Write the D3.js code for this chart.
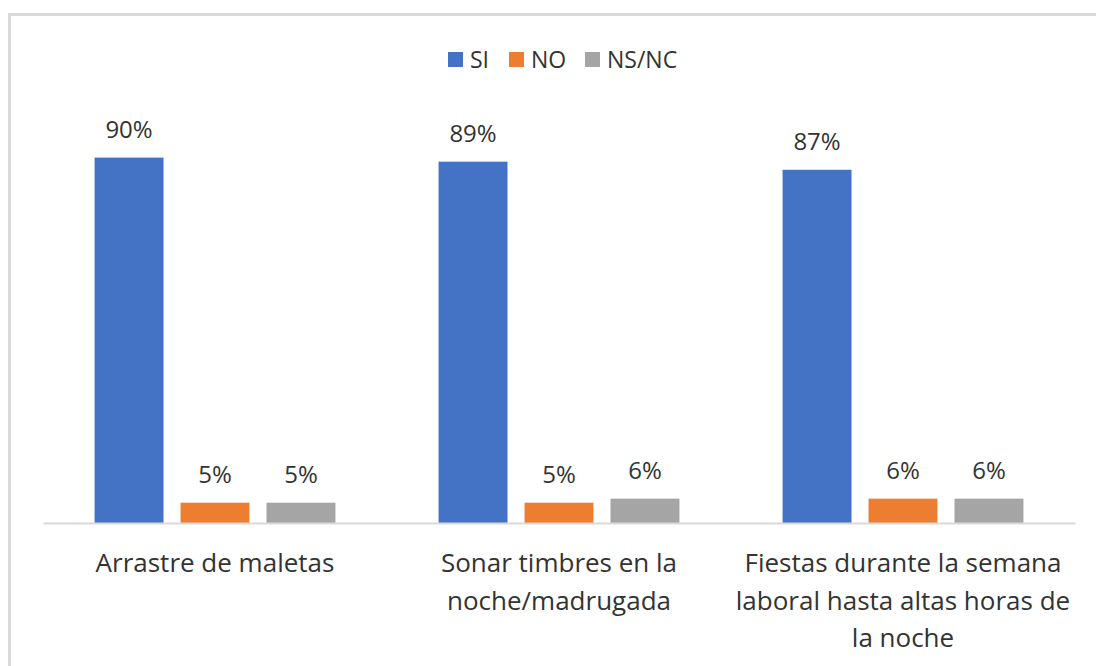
<!DOCTYPE html>
<html>
<head>
<meta charset="utf-8">
<script src="https://cdn.jsdelivr.net/npm/d3@7"></script>
<style>
  html, body { margin: 0; padding: 0; background: #fff; }
  svg { display: block; }
  text { font-family: "Open Sans", "Segoe UI", sans-serif; fill: #333333; }
</style>
</head>
<body>
<svg id="chart" width="1096" height="666"></svg>
<script>
// Survey answers per kind of nuisance
const categories = [
  "Arrastre de maletas",
  "Sonar timbres en la\nnoche/madrugada",
  "Fiestas durante la semana\nlaboral hasta altas horas de\nla noche"
];
const seriesNames = ["SI", "NO", "NS/NC"];
const siValues = [90, 89, 87];
const noValues = [5, 5, 6];
const nsncValues = [5, 6, 6];
const seriesColors = ["#4472C4", "#ED7D31", "#A5A5A5"];

const seriesValues = [siValues, noValues, nsncValues];

const svg = d3.select("#chart");

// chart frame
svg.append("rect")
  .attr("x", 9.5).attr("y", 14.5)
  .attr("width", 1200).attr("height", 800)
  .attr("fill", "none")
  .attr("stroke", "#d9d9d9")
  .attr("stroke-width", 3);

const plot = { left: 43, right: 1075, top: 117, bottom: 523 };

const x0 = d3.scaleBand()
  .domain(categories)
  .range([plot.left, plot.right])
  .padding(0);

const x1 = d3.scaleBand()
  .domain(seriesNames)
  .range([0, x0.bandwidth()])
  .paddingInner(0.198)
  .paddingOuter(0.6);

const y = d3.scaleLinear()
  .domain([0, 100])
  .range([plot.bottom, plot.top]);

const groups = svg.append("g").selectAll("g")
  .data(categories)
  .join("g")
  .attr("transform", d => `translate(${x0(d)},0)`);

const cells = groups.selectAll("g")
  .data((c, ci) => seriesNames.map((s, si) => ({ s, si, v: seriesValues[si][ci] })))
  .join("g");

cells.append("rect")
  .attr("x", d => x1(d.s))
  .attr("y", d => y(d.v))
  .attr("width", x1.bandwidth())
  .attr("height", d => y(0) - y(d.v))
  .attr("fill", d => seriesColors[d.si]);

cells.append("text")
  .attr("x", d => x1(d.s) + x1.bandwidth() / 2)
  .attr("y", d => y(d.v) - 20)
  .attr("text-anchor", "middle")
  .style("font-size", "24px")
  .text(d => d.v + "%");

// baseline
const xAxis = svg.append("g")
  .attr("transform", `translate(0,${plot.bottom})`)
  .call(d3.axisBottom(x0).tickSize(0).tickFormat(""));
xAxis.select(".domain").attr("stroke", "#d9d9d9").attr("stroke-width", 2);

// category labels, wrapped
const catLabels = svg.append("g").selectAll("text")
  .data(categories)
  .join("text")
  .attr("text-anchor", "middle")
  .style("font-size", "26px")
  .attr("x", d => x0(d) + x0.bandwidth() / 2)
  .attr("y", 572);
catLabels.selectAll("tspan")
  .data(d => d.split("\n"))
  .join("tspan")
  .attr("x", function () { return this.parentNode.getAttribute("x"); })
  .attr("dy", (d, i) => i === 0 ? 0 : 37.5)
  .text(d => d);

// legend
const legendX = [448, 509, 585];
const legend = svg.append("g").selectAll("g")
  .data(seriesNames)
  .join("g")
  .attr("transform", (d, i) => `translate(${legendX[i]},52)`);
legend.append("rect")
  .attr("width", 15).attr("height", 15)
  .attr("fill", (d, i) => seriesColors[i]);
legend.append("text")
  .attr("x", 22).attr("y", 15.5)
  .style("font-size", "23px")
  .text(d => d);
</script>
</body>
</html>
